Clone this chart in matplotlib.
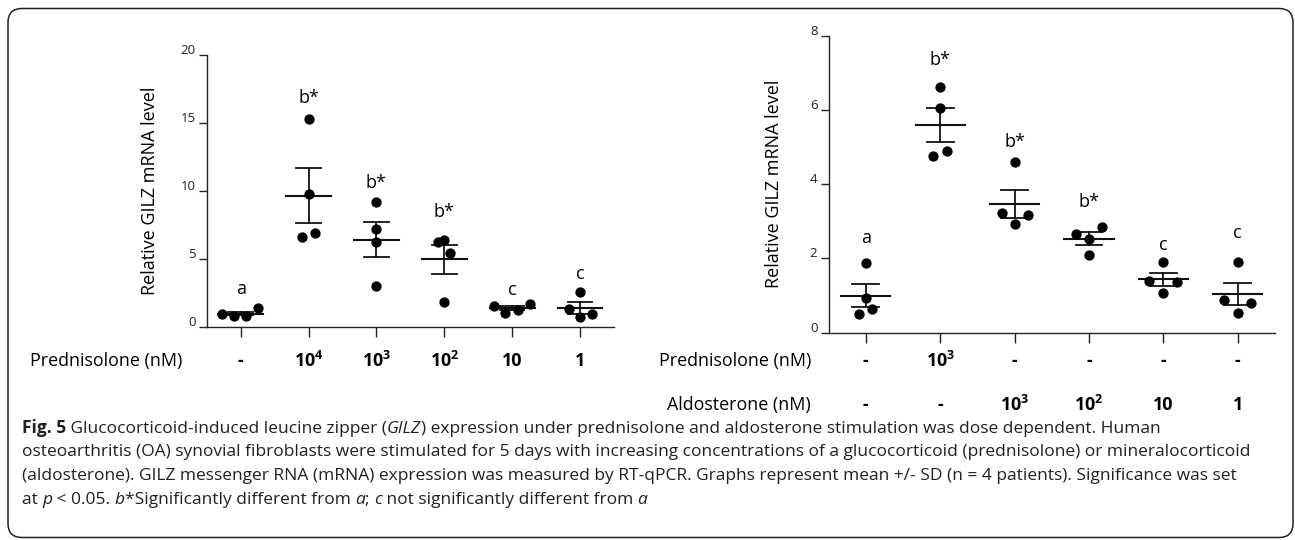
import matplotlib
matplotlib.use('Agg')
import matplotlib.pyplot as plt
import matplotlib.transforms as mtransforms
from matplotlib.patches import FancyBboxPatch

plt.rcParams['font.family'] = ['Open Sans', 'DejaVu Sans']
plt.rcParams['mathtext.fontset'] = 'custom'
plt.rcParams['mathtext.rm'] = 'Open Sans'
plt.rcParams['mathtext.bf'] = 'Open Sans:bold'

# ---- left panel: prednisolone alone ----
pred_doses = ['-', r'$\mathbf{10^4}$', r'$\mathbf{10^3}$', r'$\mathbf{10^2}$', '10', '1']
pred_points = [
    [0.92, 0.79, 0.80, 1.43],
    [15.29, 9.77, 6.63, 6.88],
    [9.18, 7.24, 6.26, 3.02],
    [6.26, 6.38, 5.45, 1.87],
    [1.52, 1.06, 1.23, 1.72],
    [2.61, 1.30, 0.74, 0.94],
]
pred_mean = [0.99, 9.65, 6.43, 4.98, 1.40, 1.40]
pred_err = [0.12, 2.03, 1.29, 1.07, 0.15, 0.43]
pred_letters = ['a', 'b*', 'b*', 'b*', 'c', 'c']
pred_letter_y = [2.83, 16.82, 10.56, 8.47, 2.71, 3.89]

# ---- right panel: prednisolone vs aldosterone ----
ald_pred_row = ['-', r'$\mathbf{10^3}$', '-', '-', '-', '-']
ald_dose_row = ['-', '-', r'$\mathbf{10^3}$', r'$\mathbf{10^2}$', '10', '1']
ald_points = [
    [1.87, 0.94, 0.50, 0.64],
    [6.63, 6.06, 4.76, 4.89],
    [4.59, 3.22, 3.17, 2.93],
    [2.65, 2.86, 2.52, 2.08],
    [1.90, 1.39, 1.37, 1.06],
    [1.91, 0.88, 0.79, 0.54],
]
ald_mean = [1.00, 5.59, 3.47, 2.53, 1.44, 1.04]
ald_err = [0.31, 0.45, 0.38, 0.17, 0.17, 0.30]
ald_letters = ['a', 'b*', 'b*', 'b*', 'c', 'c']
ald_letter_y = [2.54, 7.34, 5.14, 3.53, 2.36, 2.68]

# horizontal scatter of the dots inside each column
pred_jitter = [[-0.27, -0.10, 0.08, 0.26], [0, 0, -0.09, 0.09], [0, 0, 0, 0],
               [-0.09, 0, 0.09, 0], [-0.27, -0.10, 0.08, 0.26], [0, -0.17, 0, 0.18]]
ald_jitter = [[0, 0, -0.09, 0.09], [0, 0, -0.09, 0.09], [0, -0.175, 0.18, 0],
              [-0.18, 0.18, 0, 0], [0, -0.19, 0.18, 0], [0, -0.18, 0.18, 0]]

W, H = 1295, 540
fig = plt.figure(figsize=(W / 100, H / 100), dpi=100)
bg = fig.add_axes([0, 0, 1, 1], zorder=-1)
bg.set_xlim(0, W)
bg.set_ylim(H, 0)
bg.axis('off')

bg.add_patch(FancyBboxPatch((8, 8.5), 1285, 529, boxstyle='round,pad=0,rounding_size=14',
                            fc='white', ec='#222222', lw=1.1))


def panel(rect, points, jitter, mean, err, letters, letter_y, ymax, ystep):
    ax = fig.add_axes(rect)
    ax.set_facecolor('none')
    n = len(points)
    for i in range(n):
        xs = [i + j for j in jitter[i]]
        ax.plot(xs, points[i], 'o', color='black', ms=6.4, zorder=4)
        ax.plot([i - 0.33, i + 0.33], [mean[i], mean[i]], color='#111111', lw=1.5, zorder=3)
        ax.plot([i, i], [mean[i] - err[i], mean[i] + err[i]], color='#111111', lw=1.3, zorder=3)
        for s in (-1, 1):
            ax.plot([i - 0.18, i + 0.18], [mean[i] + s * err[i]] * 2, color='#111111', lw=1.3, zorder=3)
        ax.text(i, letter_y[i], letters[i], ha='center', va='center', fontsize=13)
    ax.set_xlim(-0.5, n - 0.5)
    ax.set_ylim(0, ymax)
    ax.set_xticks(range(n))
    ax.set_xticklabels([])
    ax.set_yticks(range(0, ymax + 1, ystep))
    ax.tick_params(axis='y', length=6, width=1.0, labelsize=9.5, pad=2, colors='#222222')
    ax.tick_params(axis='x', length=7, width=1.0, colors='#222222')
    for lab in ax.get_yticklabels():
        lab.set_transform(lab.get_transform() + mtransforms.ScaledTranslation(0, 6 / 100, fig.dpi_scale_trans))
    for sp in ('top', 'right'):
        ax.spines[sp].set_visible(False)
    for sp in ('left', 'bottom'):
        ax.spines[sp].set_linewidth(1.0)
        ax.spines[sp].set_color('#222222')
    ax.set_ylabel('Relative GILZ mRNA level', fontsize=13)
    return ax


axL = panel([206.7 / W, 1 - 327 / H, 407.3 / W, 272 / H], pred_points, pred_jitter,
            pred_mean, pred_err, pred_letters, pred_letter_y, 20, 5)
axR = panel([828.5 / W, 1 - 332.7 / H, 446.5 / W, 297 / H], ald_points, ald_jitter,
            ald_mean, ald_err, ald_letters, ald_letter_y, 8, 2)
axL.yaxis.set_label_coords(-0.118, 0.5)
axR.yaxis.set_label_coords(-0.103, 0.5)


def dose_row(ax, y, title, title_x, values):
    tr = mtransforms.blended_transform_factory(ax.transData, bg.transData)
    bg.text(title_x, y, title, ha='right', va='center', fontsize=12.9)
    for i, v in enumerate(values):
        ax.text(i, y, v, transform=tr, ha='center', va='center', fontsize=12.9,
                fontweight='bold', clip_on=False)


dose_row(axL, 361, 'Prednisolone (nM)', 182, pred_doses)
dose_row(axR, 361, 'Prednisolone (nM)', 811, ald_pred_row)
dose_row(axR, 405, 'Aldosterone (nM)', 811, ald_dose_row)

# ---- caption with mixed styles ----
caption = [
    [('Fig. 5', 'bold'), (' Glucocorticoid-induced leucine zipper (', 'normal'), ('GILZ', 'italic'),
     (') expression under prednisolone and aldosterone stimulation was dose dependent. Human', 'normal')],
    [('osteoarthritis (OA) synovial fibroblasts were stimulated for 5 days with increasing concentrations '
      'of a glucocorticoid (prednisolone) or mineralocorticoid', 'normal')],
    [('(aldosterone). GILZ messenger RNA (mRNA) expression was measured by RT-qPCR. Graphs represent '
      'mean +/- SD (n = 4 patients). Significance was set', 'normal')],
    [('at ', 'normal'), ('p', 'italic'), (' < 0.05. ', 'normal'), ('b', 'italic'),
     ('*Significantly different from ', 'normal'), ('a', 'italic'), ('; ', 'normal'), ('c', 'italic'),
     (' not significantly different from ', 'normal'), ('a', 'italic')],
]
caption_base = [433, 456.5, 480, 503.5]
caption_widths = [1216, 1223, 1211]

renderer = fig.canvas.get_renderer()


def seg_props(style, size):
    if style == 'bold':
        return dict(fontsize=size, fontweight='bold')
    if style == 'italic':
        return dict(fontsize=size, fontstyle='italic')
    return dict(fontsize=size)


def seg_width(s, style, size):
    t1 = bg.text(0, 0, '|' + s + '|', **seg_props(style, size))
    t2 = bg.text(0, 0, '||', **seg_props(style, size))
    w = t1.get_window_extent(renderer).width - t2.get_window_extent(renderer).width
    t1.remove()
    t2.remove()
    return w


# one font size so that no caption line runs past its width in the reference
fits = []
for line, target in zip(caption, caption_widths):
    w = sum(seg_width(s, st, 10.0) for s, st in line)
    fits.append(10.0 * target / w)
size = min(fits)

for line, yb in zip(caption, caption_base):
    x = 21.7
    for s, st in line:
        bg.text(x, yb, s, va='baseline', ha='left', color='#231f20', **seg_props(st, size))
        x += seg_width(s, st, size)

fig.savefig('out.png', dpi=100)
